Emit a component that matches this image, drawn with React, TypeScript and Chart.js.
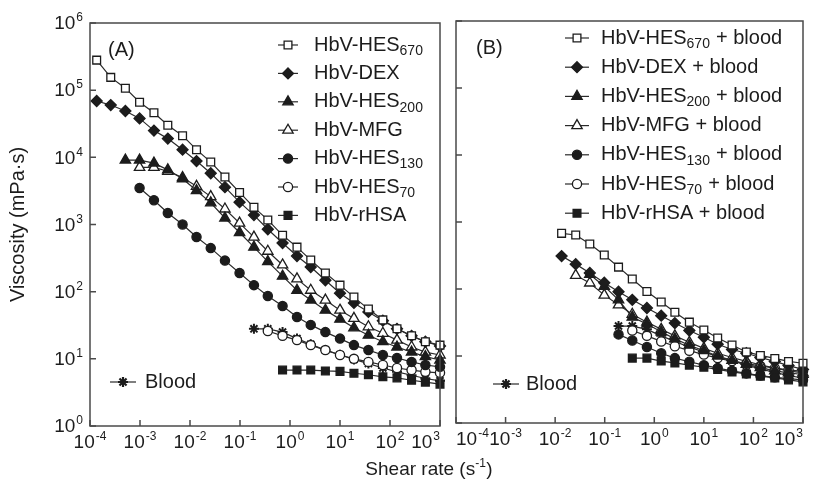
import React, { useEffect, useRef } from 'react';
import { Chart, registerables } from 'chart.js';

Chart.register(...registerables);

// ---------- data ----------
// shared shear-rate grid (s^-1)
const shearRate = [1.36e-4, 2.6e-4, 5.1e-4, 9.8e-4, 1.9e-3, 3.6e-3, 7.1e-3, 0.0135, 0.026, 0.05, 0.098, 0.19, 0.36, 0.71, 1.38, 2.6, 5.1, 10, 19, 37, 72, 138, 270, 510, 1000];

const xTickExps = [-4, -3, -2, -1, 0, 1, 2, 3];
const yTickExps = [0, 1, 2, 3, 4, 5, 6];

// Panel A (viscosity, mPa·s)
const hes670A = [2.8e5, 1.55e5, 1.07e5, 6.6e4, 4.6e4, 3.0e4, 2.1e4, 1.3e4, 8.5e3, 5.1e3, 3.0e3, 1.8e3, 1.17e3, 690, 460, 295, 190, 125, 83, 55, 38, 28, 22, 18, 16];
const dexA = [6.9e4, 6.0e4, 4.9e4, 3.8e4, 2.5e4, 1.9e4, 1.3e4, 8.8e3, 5.8e3, 3.6e3, 2.15e3, 1.38e3, 850, 530, 340, 233, 148, 95, 68, 50, 37, 28, 22, 18, 15.5];
const hes200A = [9.1e3, 9.1e3, 8.2e3, 6.5e3, 4.8e3, 3.2e3, 2.1e3, 1.25e3, 760, 460, 280, 170, 105, 75, 53, 39, 29, 22.5, 18, 15, 12.6, 10.8, 9.6];
const mfgA = [7.1e3, 7.1e3, 6.2e3, 5.0e3, 3.7e3, 2.6e3, 1.7e3, 1.05e3, 650, 400, 250, 155, 105, 75, 53, 40, 30, 24, 19, 15, 12.6, 11.4];
const hes130A = [3.5e3, 2.3e3, 1.48e3, 1.0e3, 650, 445, 290, 190, 125, 86, 61, 42, 32, 25, 20, 16, 13.5, 11.4, 10.3, 9.0, 8.1, 7.6];
const hes70A = [26, 22, 19, 16, 13.5, 11.4, 10, 9, 8.1, 7.3, 6.8, 6.4, 6.2];
const rhsaA = [6.8, 6.8, 6.8, 6.6, 6.5, 6.1, 5.8, 5.4, 5.2, 4.8, 4.5, 4.2];
const startA = [0, 0, 2, 3, 3, 12, 13];

// Blood (both panels)
const blood = [28, 28, 25, 20, 16.5, 13.5, 11.5, 9.8, 8.5, 7.3, 6.4, 5.7, 5.1, 4.7];
const bloodStart = 11;

// Panel B (mixtures with blood)
const hes670B = [677, 640, 470, 322, 212, 141, 92, 64, 45, 32, 24.5, 18.6, 14.6, 11.5, 10.2, 9.2, 8.3, 7.8];
const dexB = [310, 235, 174, 124, 91, 69, 52, 40, 31, 24, 19, 15, 12.5, 11, 9.5, 8.3, 7.2, 6.3];
const hes200B = [165, 110, 69, 38, 30, 23, 18, 14.5, 12, 10, 8.6, 7.5, 6.7, 6.0, 5.6, 5.3];
const mfgB = [160, 123, 81, 58, 42, 32, 25, 20, 16, 13, 11, 9.5, 8.3, 7.4, 6.6, 6.0, 5.6];
const hes130B = [21, 17, 13.6, 11, 9.3, 8.2, 7.3, 6.6, 6.0, 5.5, 5.1, 4.8, 4.6, 4.4];
const hes70B = [24, 20, 16.5, 14, 12, 10.5, 9.3, 8.4, 7.7, 7.1, 6.6, 6.2, 5.9];
const rhsaB = [9.3, 9.3, 8.4, 7.9, 7.3, 6.8, 6.3, 5.8, 5.4, 5.0, 4.7, 4.4, 4.1];
const startB = [7, 7, 9, 8, 11, 12, 12];

// series names (subscript part separate)
const seriesBase = ['HbV-HES', 'HbV-DEX', 'HbV-HES', 'HbV-MFG', 'HbV-HES', 'HbV-HES', 'HbV-rHSA'];
const seriesSub = ['670', '', '200', '', '130', '70', ''];
const bloodLabel = 'Blood';

// ---------- styles ----------
const FONT = '"Liberation Sans", Arial, Helvetica, sans-serif';
const INK = '#1c1c1c';
const LINE = '#2a2a2a';
const FRAME = '#4a4a4a';
const markerStyle = ['rect', 'rectRot', 'triangle', 'triangle', 'circle', 'circle', 'rect'];
const markerFilled = [false, true, true, false, true, false, true];
const markerRadius = [5.5, 5.5, 6, 6, 4.6, 4.6, 5.5];

function buildDatasets(values: number[][], starts: number[], suffix: string) {
  const ds: any[] = values.map((vals, k) => ({
    label: seriesBase[k] + seriesSub[k] + suffix,
    data: vals.map((v, i) => ({ x: shearRate[starts[k] + i], y: v })),
    showLine: true,
    borderColor: LINE,
    borderWidth: 1.2,
    pointStyle: markerStyle[k],
    pointRadius: markerRadius[k],
    pointBorderColor: INK,
    pointBorderWidth: 1.3,
    pointBackgroundColor: markerFilled[k] ? INK : '#ffffff',
    clip: false,
  }));
  ds.push({
    label: bloodLabel,
    data: blood.map((v, i) => ({ x: shearRate[bloodStart + i], y: v })),
    showLine: true,
    borderColor: LINE,
    borderWidth: 1.2,
    pointStyle: 'star',
    pointRadius: 5,
    pointBorderColor: INK,
    pointBorderWidth: 2,
    pointBackgroundColor: INK,
    clip: false,
  });
  return ds;
}

function drawMarker(ctx: CanvasRenderingContext2D, style: string, filled: boolean, x: number, y: number, r: number) {
  ctx.save();
  ctx.lineWidth = style === 'star' ? 2.2 : 1.3;
  ctx.strokeStyle = INK;
  ctx.fillStyle = filled ? INK : '#ffffff';
  ctx.beginPath();
  if (style === 'rect') {
    const s = r * Math.SQRT1_2;
    ctx.rect(x - s, y - s, 2 * s, 2 * s);
  } else if (style === 'rectRot') {
    ctx.moveTo(x, y - r); ctx.lineTo(x + r, y); ctx.lineTo(x, y + r); ctx.lineTo(x - r, y); ctx.closePath();
  } else if (style === 'triangle') {
    ctx.moveTo(x, y - r);
    ctx.lineTo(x + r * 0.866, y + r * 0.5);
    ctx.lineTo(x - r * 0.866, y + r * 0.5);
    ctx.closePath();
  } else if (style === 'circle') {
    ctx.arc(x, y, r, 0, Math.PI * 2);
  } else if (style === 'star') {
    for (let a = 0; a < 4; a++) {
      const ang = (a * Math.PI) / 4;
      ctx.moveTo(x - Math.cos(ang) * r, y - Math.sin(ang) * r);
      ctx.lineTo(x + Math.cos(ang) * r, y + Math.sin(ang) * r);
    }
    ctx.stroke();
    ctx.restore();
    return;
  }
  ctx.fill();
  ctx.stroke();
  ctx.restore();
}

function drawPow(ctx: CanvasRenderingContext2D, exp: number, x: number, y: number, align: string) {
  ctx.save();
  ctx.fillStyle = INK;
  ctx.textBaseline = 'middle';
  ctx.textAlign = 'left';
  ctx.font = `19px ${FONT}`;
  const wb = ctx.measureText('10').width;
  ctx.font = `12px ${FONT}`;
  const es = String(exp);
  const we = ctx.measureText(es).width;
  const total = wb + we + 1;
  const sx = align === 'center' ? x - total / 2 : align === 'right' ? x - total : x;
  ctx.font = `19px ${FONT}`;
  ctx.fillText('10', sx, y);
  ctx.font = `12px ${FONT}`;
  ctx.fillText(es, sx + wb + 1, y - 6);
  ctx.restore();
}

type Part = { t: string; sub?: boolean; sup?: boolean };

function partFont(p: Part, size: number) {
  if (p.sub) return Math.round(size * 0.72);
  if (p.sup) return Math.round(size * 0.62);
  return size;
}

function drawRich(ctx: CanvasRenderingContext2D, parts: Part[], x: number, y: number, size: number) {
  ctx.save();
  ctx.fillStyle = INK;
  ctx.textBaseline = 'middle';
  ctx.textAlign = 'left';
  let cx = x;
  for (const p of parts) {
    const small = p.sub || p.sup;
    ctx.font = `${partFont(p, size)}px ${FONT}`;
    const dy = p.sub ? size * 0.3 : p.sup ? -size * 0.32 : 0;
    ctx.fillText(p.t, cx, y + dy);
    cx += ctx.measureText(p.t).width + (small ? 0.5 : 0);
  }
  ctx.restore();
  return cx - x;
}

function richWidth(ctx: CanvasRenderingContext2D, parts: Part[], size: number) {
  ctx.save();
  let w = 0;
  for (const p of parts) {
    const small = p.sub || p.sup;
    ctx.font = `${partFont(p, size)}px ${FONT}`;
    w += ctx.measureText(p.t).width + (small ? 0.5 : 0);
  }
  ctx.restore();
  return w;
}

type PanelOpts = {
  panel: string;
  suffix: string;
  yLabels: boolean;
  firstAlign: string;
  legendLineX: [number, number];
  legendTextX: number;
  legendY0: number;
  legendDY: number;
  bloodLine: [number, number];
  bloodTextX: number;
  bloodY: number;
  panelLabelX: number;
  panelLabelY: number;
  titles: boolean;
};

function decorPlugin(o: PanelOpts) {
  return {
    id: 'decor' + o.panel,
    afterDraw(chart: any) {
      const ctx: CanvasRenderingContext2D = chart.ctx;
      const { left, right, top, bottom } = chart.chartArea;
      const xs = chart.scales.x;
      const ys = chart.scales.y;
      ctx.save();
      // frame
      ctx.strokeStyle = FRAME;
      ctx.lineWidth = 1.5;
      ctx.strokeRect(left, top, right - left, bottom - top);
      // inward ticks
      ctx.beginPath();
      for (const e of yTickExps) {
        const py = ys.getPixelForValue(Math.pow(10, e));
        ctx.moveTo(left, py);
        ctx.lineTo(left + 6, py);
      }
      for (const e of xTickExps) {
        const px = xs.getPixelForValue(Math.pow(10, e));
        ctx.moveTo(px, bottom);
        ctx.lineTo(px, bottom - 6);
      }
      ctx.stroke();
      ctx.restore();

      // tick labels
      if (o.yLabels) {
        for (const e of yTickExps) {
          drawPow(ctx, e, left - 7, ys.getPixelForValue(Math.pow(10, e)) + 1, 'right');
        }
      }
      xTickExps.forEach((e, i) => {
        const px = xs.getPixelForValue(Math.pow(10, e));
        let align = 'center';
        if (i === 0) align = o.firstAlign;
        if (i === xTickExps.length - 1) align = 'right';
        drawPow(ctx, e, px, bottom + 17, align);
      });

      // legend
      const n = seriesBase.length;
      for (let k = 0; k < n; k++) {
        const y = o.legendY0 + k * o.legendDY;
        ctx.save();
        ctx.strokeStyle = LINE;
        ctx.lineWidth = 1.2;
        ctx.beginPath();
        ctx.moveTo(o.legendLineX[0], y);
        ctx.lineTo(o.legendLineX[1], y);
        ctx.stroke();
        ctx.restore();
        drawMarker(ctx, markerStyle[k], markerFilled[k], (o.legendLineX[0] + o.legendLineX[1]) / 2, y, markerRadius[k]);
        const parts: Part[] = [{ t: seriesBase[k] }];
        if (seriesSub[k]) parts.push({ t: seriesSub[k], sub: true });
        if (o.suffix) parts.push({ t: o.suffix });
        drawRich(ctx, parts, o.legendTextX, y, 20);
      }
      // blood legend
      ctx.save();
      ctx.strokeStyle = LINE;
      ctx.lineWidth = 1.2;
      ctx.beginPath();
      ctx.moveTo(o.bloodLine[0], o.bloodY);
      ctx.lineTo(o.bloodLine[1], o.bloodY);
      ctx.stroke();
      ctx.restore();
      drawMarker(ctx, 'star', true, (o.bloodLine[0] + o.bloodLine[1]) / 2, o.bloodY, 5);
      drawRich(ctx, [{ t: bloodLabel }], o.bloodTextX, o.bloodY, 20);

      // panel label
      drawRich(ctx, [{ t: o.panel }], o.panelLabelX, o.panelLabelY, 20);

      if (o.titles) {
        // y title
        ctx.save();
        ctx.translate(18, (top + bottom) / 2);
        ctx.rotate(-Math.PI / 2);
        ctx.fillStyle = INK;
        ctx.font = `20px ${FONT}`;
        ctx.textAlign = 'center';
        ctx.textBaseline = 'middle';
        ctx.fillText('Viscosity (mPa·s)', 0, 0);
        ctx.restore();
        // x title
        const parts: Part[] = [{ t: 'Shear rate (s' }, { t: '-1', sup: true }, { t: ')' }];
        const w = richWidth(ctx, parts, 19);
        drawRich(ctx, parts, 429 - w / 2, 470, 19);
      }
    },
  };
}

function makeConfig(datasets: any[], padding: any, opts: PanelOpts): any {
  return {
    type: 'scatter',
    data: { datasets },
    options: {
      responsive: false,
      animation: false,
      devicePixelRatio: 1,
      layout: { padding },
      plugins: { legend: { display: false }, tooltip: { enabled: false } },
      scales: {
        x: { type: 'logarithmic', min: 1e-4, max: 1e3, display: false },
        y: { type: 'logarithmic', min: 1, max: 1e6, display: false },
      },
    },
    plugins: [decorPlugin(opts)],
  };
}

export default function App() {
  const refA = useRef<HTMLCanvasElement>(null);
  const refB = useRef<HTMLCanvasElement>(null);

  useEffect(() => {
    const dsA = buildDatasets([hes670A, dexA, hes200A, mfgA, hes130A, hes70A, rhsaA], startA, '');
    const dsB = buildDatasets([hes670B, dexB, hes200B, mfgB, hes130B, hes70B, rhsaB], startB, ' + blood');
    const a = new Chart(
      refA.current as HTMLCanvasElement,
      makeConfig(dsA, { left: 90, top: 23, right: 375, bottom: 63 }, {
        panel: '(A)', suffix: '', yLabels: true, firstAlign: 'center',
        legendLineX: [278, 298], legendTextX: 314, legendY0: 45, legendDY: 28.4,
        bloodLine: [110, 136], bloodTextX: 145, bloodY: 382,
        panelLabelX: 108, panelLabelY: 50, titles: true,
      })
    );
    const b = new Chart(
      refB.current as HTMLCanvasElement,
      makeConfig(dsB, { left: 456, top: 21, right: 12, bottom: 66 }, {
        panel: '(B)', suffix: ' + blood', yLabels: false, firstAlign: 'left',
        legendLineX: [565, 589], legendTextX: 601, legendY0: 38, legendDY: 29.2,
        bloodLine: [493, 519], bloodTextX: 526, bloodY: 384,
        panelLabelX: 476, panelLabelY: 48, titles: false,
      })
    );
    return () => {
      a.destroy();
      b.destroy();
    };
  }, []);

  return (
    <div style={{ position: 'absolute', left: 0, top: 0, width: 815, height: 489, background: '#ffffff' }}>
      <canvas ref={refA} width={815} height={489} style={{ position: 'absolute', left: 0, top: 0 }} />
      <canvas ref={refB} width={815} height={489} style={{ position: 'absolute', left: 0, top: 0 }} />
    </div>
  );
}
